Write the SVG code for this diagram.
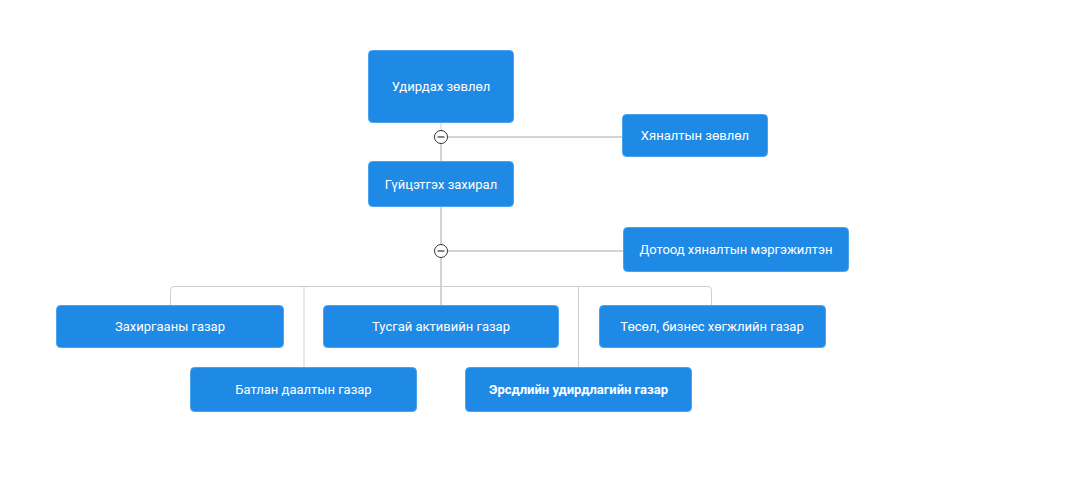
<svg xmlns="http://www.w3.org/2000/svg" width="1090" height="481" viewBox="0 0 1090 481">
<style>
.n rect{fill:#1e8ae6;stroke:#4aa3ee;stroke-width:1}
.n text{fill:#fff;font-family:Roboto,"Liberation Sans",sans-serif;font-size:13px;text-anchor:middle;dominant-baseline:central}
.c path,.c line{fill:none;stroke:#a8a8a8;stroke-width:1}
.c .l{stroke:#cfcfcf}
.t circle{fill:#fff;stroke:#333;stroke-width:1}
.t line{stroke:#333;stroke-width:1.2}
</style>
<rect width="1090" height="481" fill="#fff"/>
<g id="connectors" class="c">
<line x1="441" y1="123" x2="441" y2="130" class="l"/>
<line x1="441" y1="143" x2="441" y2="162"/>
<line x1="448" y1="137" x2="623" y2="137"/>
<line x1="441" y1="207" x2="441" y2="244"/>
<line x1="448" y1="251" x2="623" y2="251"/>
<line x1="441" y1="258" x2="441" y2="306"/>
<path class="l" d="M170.5 306 V290 Q170.5 286.5 174 286.5 H708 Q711.5 286.5 711.5 290 V306"/>
<line class="l" x1="304" y1="286.5" x2="304" y2="368"/>
<line class="l" x1="578.5" y1="286.5" x2="578.5" y2="368"/>
</g>
<g class="t">
<circle cx="441" cy="137" r="6.5"/><line x1="437.5" y1="137" x2="444.5" y2="137"/>
<circle cx="441" cy="251" r="6.5"/><line x1="437.5" y1="251" x2="444.5" y2="251"/>
</g>
<g id="n1" class="n"><rect x="368.5" y="50.5" width="145" height="72" rx="4"/><text x="441" y="86.5">Удирдах зөвлөл</text></g>
<g id="n2" class="n"><rect x="622.5" y="114.5" width="145" height="42" rx="4"/><text x="695" y="135.5">Хяналтын зөвлөл</text></g>
<g id="n3" class="n"><rect x="368.5" y="161.5" width="145" height="45" rx="4"/><text x="441" y="184">Гүйцэтгэх захирал</text></g>
<g id="n4" class="n"><rect x="623.5" y="227.5" width="225" height="44" rx="4"/><text x="736" y="249.5">Дотоод хяналтын мэргэжилтэн</text></g>
<g id="n5" class="n"><rect x="56.5" y="305.5" width="227" height="42" rx="4"/><text x="170" y="326.5">Захиргааны газар</text></g>
<g id="n6" class="n"><rect x="323.5" y="305.5" width="235" height="42" rx="4"/><text x="441" y="326.5">Тусгай активийн газар</text></g>
<g id="n7" class="n"><rect x="599.5" y="305.5" width="226" height="42" rx="4"/><text x="712" y="326.5">Төсөл, бизнес хөгжлийн газар</text></g>
<g id="n8" class="n"><rect x="190.5" y="367.5" width="226" height="44" rx="4"/><text x="303.5" y="389.5">Батлан даалтын газар</text></g>
<g id="n9" class="n"><rect x="465.5" y="367.5" width="226" height="44" rx="4"/><text x="578.5" y="389.5" font-weight="bold">Эрсдлийн удирдлагийн газар</text></g>
</svg>
